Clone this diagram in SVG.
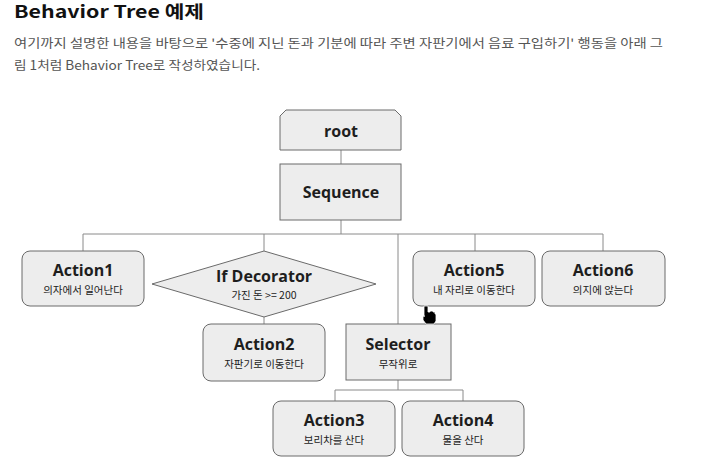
<svg xmlns="http://www.w3.org/2000/svg" width="704" height="464" viewBox="0 0 704 464">
<style>
.box{fill:#ededed;stroke:#6a6a6a;stroke-width:1}
.ln{fill:none;stroke:#8a8a8a;stroke-width:1}
.t{font-family:"Open Sans","DejaVu Sans","Noto Sans CJK KR",sans-serif;font-weight:700;font-size:16px;fill:#1e1e1e;text-anchor:middle}
.s{font-family:"Noto Sans CJK KR","Noto Sans",sans-serif;font-size:10.5px;fill:#222;text-anchor:middle}
.p{font-family:"Noto Sans CJK KR","Noto Sans",sans-serif;font-size:12.5px;fill:#555}
</style>
<rect width="704" height="464" fill="#ffffff"/>
<text x="14" y="18" font-family="Noto Sans CJK KR, Noto Sans, sans-serif" font-weight="700" font-size="17" fill="#111" textLength="190" lengthAdjust="spacingAndGlyphs">Behavior Tree 예제</text>
<text class="p" x="14" y="48" textLength="649" lengthAdjust="spacingAndGlyphs">여기까지 설명한 내용을 바탕으로 '수중에 지닌 돈과 기분에 따라 주변 자판기에서 음료 구입하기' 행동을 아래 그</text>
<text class="p" x="14" y="70" textLength="246" lengthAdjust="spacingAndGlyphs">림 1처럼 Behavior Tree로 작성하였습니다.</text>
<g id="connectors">
<path class="ln" d="M341 150V164M341 220V234M83 234H603M83 234V251M264 234V251M398 234V324M475 234V251M603 234V251M264 317V324M398 380V390M335 390H463M335 390V401M463 390V401"/>
</g>
<g id="root"><path class="box" d="M286 110H395L401 116V150H280V116Z"/><text class="t" x="341" y="137">root</text></g>
<g id="sequence"><rect class="box" x="280" y="164" width="121" height="56"/><text class="t" x="341" y="198">Sequence</text></g>
<g id="action1"><rect class="box" x="22" y="251" width="122" height="55" rx="8"/><text class="t" x="83" y="276">Action1</text><text class="s" x="83" y="294">의자에서 일어난다</text></g>
<g id="ifdecorator"><path class="box" d="M264 251L376 284L264 317L152 284Z"/><text class="t" x="264" y="282">If Decorator</text><text class="s" x="264" y="299">가진 돈 &gt;=  200</text></g>
<g id="action5"><rect class="box" x="413" y="251" width="122" height="55" rx="8"/><text class="t" x="474" y="276">Action5</text><text class="s" x="474" y="294">내 자리로 이동한다</text></g>
<g id="action6"><rect class="box" x="542" y="251" width="123" height="55" rx="8"/><text class="t" x="603" y="276">Action6</text><text class="s" x="603" y="294">의지에 앉는다</text></g>
<g id="action2"><rect class="box" x="203" y="324" width="122" height="57" rx="8"/><text class="t" x="264" y="350">Action2</text><text class="s" x="264" y="368">자판기로 이동한다</text></g>
<g id="selector"><rect class="box" x="346" y="324" width="105" height="56"/><text class="t" x="398" y="350">Selector</text><text class="s" x="398" y="368">무작위로</text></g>
<g id="action3"><rect class="box" x="273" y="401" width="122" height="55" rx="8"/><text class="t" x="334" y="426">Action3</text><text class="s" x="334" y="444">보리차를 산다</text></g>
<g id="action4"><rect class="box" x="402" y="401" width="122" height="55" rx="8"/><text class="t" x="463" y="426">Action4</text><text class="s" x="463" y="444">물을 산다</text></g>
<path d="M424 306h4v6l2 0v-1h3v1h2v2h1v7l-2 3h-8l-3-4v-4l1-1v2h0Z" fill="#000" stroke="#fff" stroke-width="0.8"/>
</svg>
